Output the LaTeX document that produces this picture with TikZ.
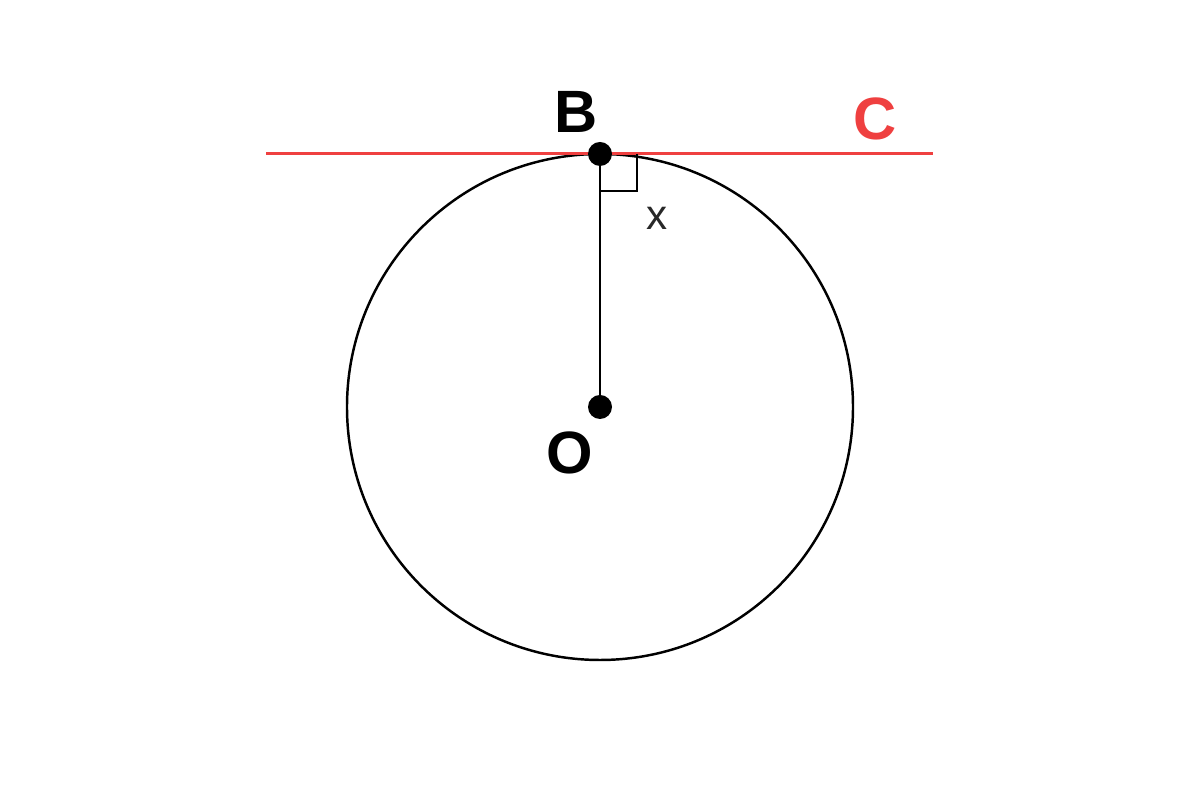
\documentclass[tikz,border=0pt]{standalone}
\usepackage{fontspec}
\setmainfont{Liberation Sans}
\usetikzlibrary{positioning}
\definecolor{tangentred}{RGB}{239,64,64}
\definecolor{labelgray}{RGB}{40,40,40}

\begin{document}
\begin{tikzpicture}[
    line width=0.7pt,
    dot/.style={circle, fill=black, inner sep=0pt, minimum size=0.24cm},
    pointlabel/.style={font=\fontsize{17}{20}\selectfont\bfseries, inner sep=0pt},
    anglelabel/.style={font=\fontsize{12}{14}\selectfont, text=labelgray, inner sep=0pt},
    tangent/.style={draw=tangentred, line width=0.85pt}
]
\useasboundingbox (0,0) rectangle (12,8);
\coordinate (O) at (6,3.93);
\coordinate (B) at (6,6.46);
\coordinate (left) at (2.66,6.46);
\coordinate (right) at (9.33,6.46);
\draw (O) circle (2.53);
\draw[tangent] (left) -- (right);
\draw (O) -- (B);
\draw ([xshift=0.37cm]B) -- ++(0,-0.37) -- ++(-0.37,0);
\node[dot] (Odot) at (O) {};
\node[dot] (Bdot) at (B) {};
\node[pointlabel] (Blabel) at (5.76,6.88) {B};
\node[pointlabel, text=tangentred] (Clabel) at (8.75,6.81) {C};
\node[pointlabel] (Olabel) at (5.70,3.47) {O};
\node[anglelabel] (xlabel) at (6.57,5.82) {x};
\end{tikzpicture}
\end{document}
